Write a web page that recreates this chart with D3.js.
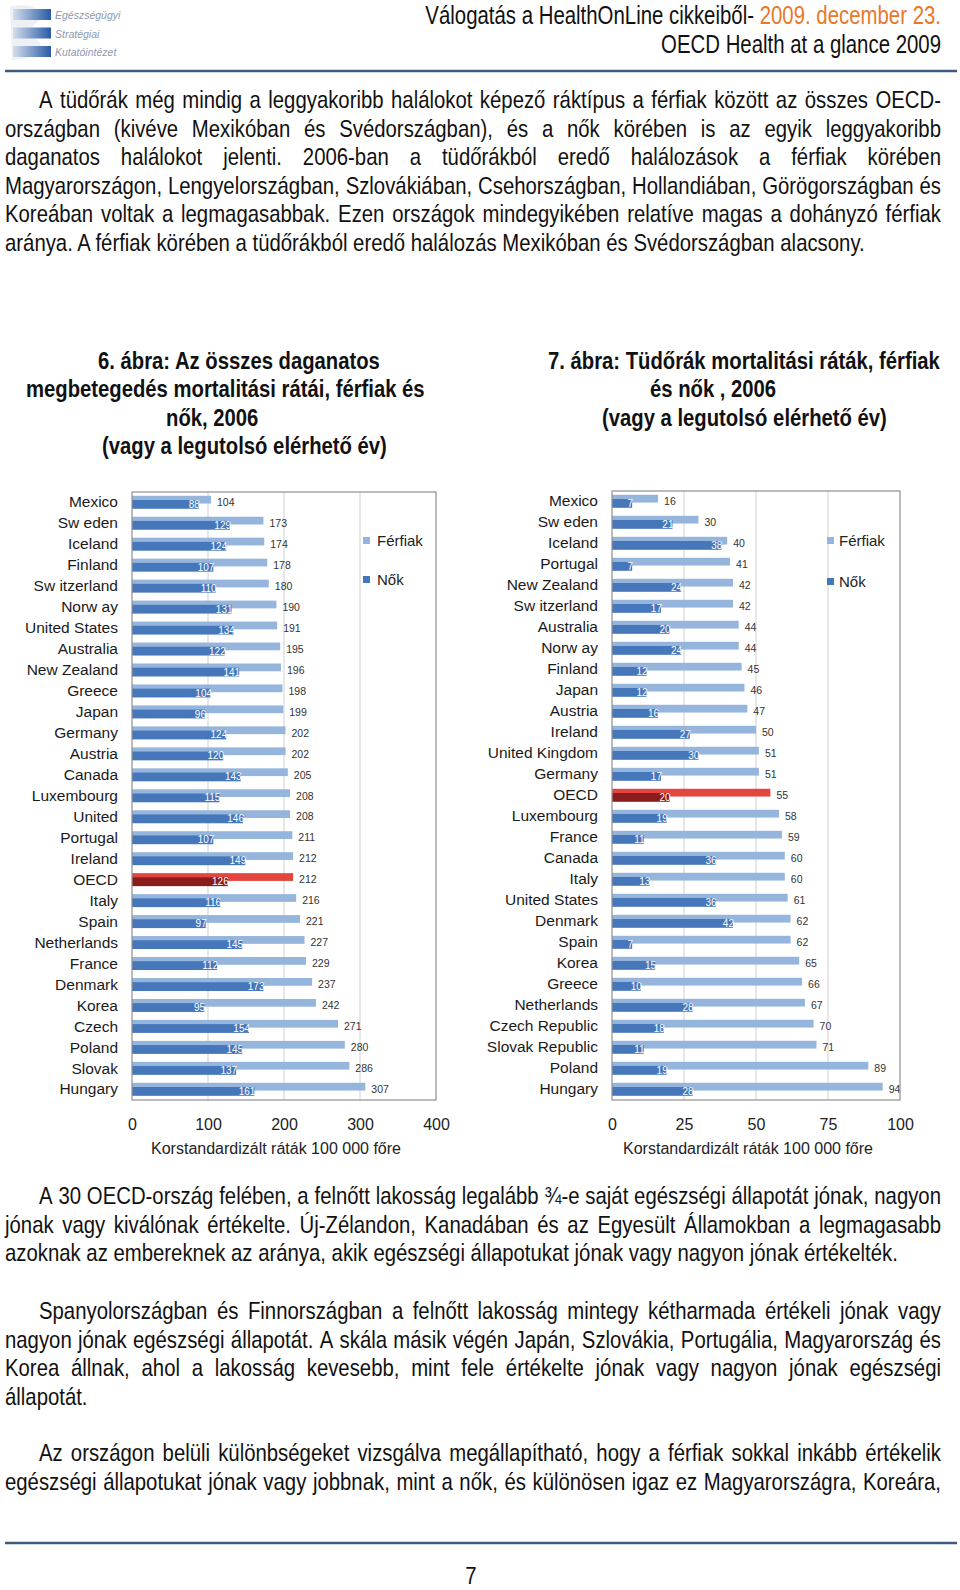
<!DOCTYPE html>
<html><head><meta charset="utf-8">
<script src="https://cdn.jsdelivr.net/npm/d3@7"></script>
<style>body{margin:0;background:#fff}</style>
</head><body>
<script>
// ---------- DATA ----------
const cancerCountries = ["Mexico","Sw eden","Iceland","Finland","Sw itzerland","Norw ay","United States","Australia","New  Zealand","Greece","Japan","Germany","Austria","Canada","Luxembourg","United","Portugal","Ireland","OECD","Italy","Spain","Netherlands","France","Denmark","Korea","Czech","Poland","Slovak","Hungary"];
const cancerMen   = [104,173,174,178,180,190,191,195,196,198,199,202,202,205,208,208,211,212,212,216,221,227,229,237,242,271,280,286,307];
const cancerWomen = [88,129,124,107,110,131,134,122,141,104,96,124,120,143,115,146,107,149,126,116,97,145,112,173,95,154,145,137,161];
const cancerTicks = [0,100,200,300,400];

const lungCountries = ["Mexico","Sw eden","Iceland","Portugal","New  Zealand","Sw itzerland","Australia","Norw ay","Finland","Japan","Austria","Ireland","United Kingdom","Germany","OECD","Luxembourg","France","Canada","Italy","United States","Denmark","Spain","Korea","Greece","Netherlands","Czech Republic","Slovak Republic","Poland","Hungary"];
const lungMen   = [16,30,40,41,42,42,44,44,45,46,47,50,51,51,55,58,59,60,60,61,62,62,65,66,67,70,71,89,94];
const lungWomen = [7,21,38,7,24,17,20,24,12,12,16,27,30,17,20,19,11,36,13,36,42,7,15,10,28,18,11,19,28];
const lungTicks = [0,25,50,75,100];

const seriesNames = ["Férfiak","Nők"];
const axisTitle = "Korstandardizált ráták 100 000 főre";

const headerLine1a = "Válogatás a HealthOnLine cikkeiből- ";
const headerLine1b = "2009. december 23.";
const headerLine2 = "OECD Health at a glance 2009";

const para1 = [
 "A tüdőrák még mindig a leggyakoribb halálokot képező ráktípus a férfiak között az összes OECD-",
 "országban (kivéve Mexikóban és Svédországban), és a nők körében is az egyik leggyakoribb",
 "daganatos halálokot jelenti. 2006-ban a tüdőrákból eredő halálozások a férfiak körében",
 "Magyarországon, Lengyelországban, Szlovákiában, Csehországban, Hollandiában, Görögországban és",
 "Koreában voltak a legmagasabbak. Ezen országok mindegyikében relatíve magas a dohányzó férfiak",
 "aránya. A férfiak körében a tüdőrákból eredő halálozás Mexikóban és Svédországban alacsony."
];
const para2 = [
 "A 30 OECD-ország felében, a felnőtt lakosság legalább ¾-e saját egészségi állapotát jónak, nagyon",
 "jónak vagy kiválónak értékelte. Új-Zélandon, Kanadában és az Egyesült Államokban a legmagasabb",
 "azoknak az embereknek az aránya, akik egészségi állapotukat jónak vagy nagyon jónak értékelték."
];
const para3 = [
 "Spanyolországban és Finnországban a felnőtt lakosság mintegy kétharmada értékeli jónak vagy",
 "nagyon jónak egészségi állapotát. A skála másik végén Japán, Szlovákia, Portugália, Magyarország és",
 "Korea állnak, ahol a lakosság kevesebb, mint fele értékelte jónak vagy nagyon jónak egészségi",
 "állapotát."
];
const para4 = [
 "Az országon belüli különbségeket vizsgálva megállapítható, hogy a férfiak sokkal inkább értékelik",
 "egészségi állapotukat jónak vagy jobbnak, mint a nők, és különösen igaz ez Magyarországra, Koreára,"
];
const title6 = ["6. ábra: Az összes daganatos","megbetegedés mortalitási rátái, férfiak és","nők, 2006","(vagy a legutolsó elérhető év)"];
const title7 = ["7. ábra: Tüdőrák mortalitási ráták, férfiak","és nők , 2006","(vagy a legutolsó elérhető év)"];
const logoWords = ["Egészségügyi","Stratégiai","Kutatóintézet"];

// ---------- SETUP ----------
const svg = d3.select("body").append("svg").attr("width",960).attr("height",1590).style("display","block");

function measureF(str, fam, size, weight){
  const t = svg.append("text").attr("font-family",fam).attr("font-size",size).attr("font-weight",weight||"normal").text(str);
  const w = t.node().getComputedTextLength(); t.remove(); return w;
}
const probe = "Magyarországon, Lengyelországban";
const wN = measureF(probe, "'Liberation Sans Narrow','Liberation Sans'", 20);
const wR = measureF(probe, "'Liberation Sans'", 20);
let FAM, SX;
if (wN < wR*0.95) { FAM = "'Liberation Sans Narrow','Arial Narrow',sans-serif"; SX = 1; }
else { FAM = "'Liberation Sans',Arial,sans-serif"; SX = 0.82; }
const measureN = (s,size,weight)=>measureF(s,FAM,size,weight);

function tline(str, x, y, o){
  const g = svg.append("g").attr("transform",`translate(${x},${y}) scale(${SX},1)`);
  const t = g.append("text").attr("font-family",FAM).attr("font-size",o.size)
    .attr("font-weight",o.weight||"normal").attr("fill",o.fill||"#111");
  if (o.justify){
    const words = str.split(" ");
    const ws = words.map(w=>measureN(w,o.size,o.weight));
    const gap = (o.justify/SX - d3.sum(ws))/(words.length-1);
    let cx = 0;
    words.forEach((w,i)=>{ t.append("tspan").attr("x",cx).text(w); cx += ws[i]+gap; });
  } else {
    t.text(str);
    if (o.anchor) t.attr("text-anchor",o.anchor);
  }
  return t;
}

// font sizes fitted to reference line widths
const bodySize = 20*860/(measureN(para1[5],20)*SX);
const titleSize = 20*285/(measureN(title6[3],20,"bold")*SX);
const headSize = 20*280/(measureN(headerLine2,20)*SX);

// ---------- HEADER ----------
const defs = svg.append("defs");
const lg = defs.append("linearGradient").attr("id","lg");
lg.append("stop").attr("offset","0").attr("stop-color","#d3deec");
lg.append("stop").attr("offset","1").attr("stop-color","#2a5aa5");
svg.append("path").attr("d","M10,6 Q40,2 44,18 Q20,30 40,42 Q44,58 12,60 Z").attr("fill","#eef0f3");
logoWords.forEach((w,i)=>{
  svg.append("rect").attr("x",13).attr("y",9+i*18.5).attr("width",38).attr("height",11).attr("fill","url(#lg)");
  svg.append("text").attr("x",55).attr("y",19+i*18.5).attr("font-family","'Liberation Sans',sans-serif")
    .attr("font-size",10.5).attr("fill","#8a9bb3").attr("font-style","italic").text(w);
});
{
  const g = svg.append("g").attr("transform",`translate(941,24) scale(${SX},1)`);
  const t = g.append("text").attr("font-family",FAM).attr("font-size",headSize).attr("text-anchor","end");
  t.append("tspan").attr("fill","#111").text(headerLine1a);
  t.append("tspan").attr("fill","#e8792a").text(headerLine1b);
}
tline(headerLine2, 941, 53, {size:headSize, anchor:"end"});
svg.append("line").attr("x1",5).attr("x2",957).attr("y1",71).attr("y2",71).attr("stroke","#3d5d7e").attr("stroke-width",2.5);

// ---------- PARAGRAPHS ----------
function para(lines, y0, lastJustified){
  lines.forEach((s,i)=>{
    const x = i===0 ? 39 : 5;
    const isLast = i===lines.length-1;
    const just = (!isLast || lastJustified) ? 941 - x : null;
    tline(s, x, y0 + i*28.6, {size:bodySize, justify:just});
  });
}
para(para1, 108, false);
para(para2, 1204, false);
para(para3, 1319, false);
para(para4, 1461, true);

// ---------- TITLES ----------
const t6x = [98,26,166,102], t7x = [548,650,602];
title6.forEach((s,i)=>tline(s, t6x[i], 369+i*28.4, {size:titleSize, weight:"bold"}));
title7.forEach((s,i)=>tline(s, t7x[i], 369+i*28.4, {size:titleSize, weight:"bold"}));

// ---------- CHARTS ----------
const C = {light:"#95b5dd", dark:"#4677bb", oLight:"#e2463f", oDark:"#8b1c1c"};
function drawChart(cfg){
  const rows = cfg.countries.map((c,i)=>({c, m:cfg.men[i], w:cfg.women[i]}));
  const x = d3.scaleLinear().domain([0, d3.max(cfg.ticks)]).range([cfg.left, cfg.right]);
  const y = d3.scaleBand().domain(cfg.countries).range([cfg.top, cfg.bottom]);
  const bw = y.bandwidth();
  const g = svg.append("g");
  g.selectAll("line.grid").data(cfg.ticks.slice(1,-1)).join("line")
    .attr("x1",d=>x(d)).attr("x2",d=>x(d)).attr("y1",cfg.top).attr("y2",cfg.bottom)
    .attr("stroke","#cfcfcf").attr("stroke-width",1);
  g.selectAll("rect.m").data(rows).join("rect")
    .attr("x",x(0)).attr("y",d=>y(d.c)+bw*0.18).attr("height",bw*0.37)
    .attr("width",d=>x(d.m)-x(0)).attr("fill",d=>d.c==="OECD"?C.oLight:C.light);
  g.selectAll("rect.w").data(rows).join("rect")
    .attr("x",x(0)).attr("y",d=>y(d.c)+bw*0.38).attr("height",bw*0.42)
    .attr("width",d=>x(d.w)-x(0)).attr("fill",d=>d.c==="OECD"?C.oDark:C.dark);
  g.selectAll("text.m").data(rows).join("text")
    .attr("x",d=>x(d.m)+6).attr("y",d=>y(d.c)+bw*0.5+3.5)
    .attr("font-family","'Liberation Sans',Arial,sans-serif").attr("font-size",10.5).attr("fill","#333")
    .text(d=>d.m);
  g.selectAll("text.w").data(rows).join("text")
    .attr("x",d=>x(d.w)+1).attr("y",d=>y(d.c)+bw*0.59+3.5).attr("text-anchor","end")
    .attr("font-family","'Liberation Sans',Arial,sans-serif").attr("font-size",10).attr("fill","#fff")
    .text(d=>d.w);
  g.append("rect").attr("x",cfg.left).attr("y",cfg.top).attr("width",cfg.right-cfg.left).attr("height",cfg.bottom-cfg.top)
    .attr("fill","none").attr("stroke","#8f8f8f").attr("stroke-width",1.2);
  const ay = g.append("g").attr("transform",`translate(${cfg.left},0)`)
    .call(d3.axisLeft(y).tickSize(0).tickPadding(14));
  ay.select(".domain").remove();
  ay.selectAll("text").attr("font-family","'Liberation Sans',Arial,sans-serif").attr("font-size",15.5).attr("fill","#1a1a1a");
  const ax = g.append("g").attr("transform",`translate(0,${cfg.bottom})`)
    .call(d3.axisBottom(x).tickValues(cfg.ticks).tickSize(0).tickPadding(19));
  ax.select(".domain").remove();
  ax.selectAll("text").attr("font-family","'Liberation Sans',Arial,sans-serif").attr("font-size",16).attr("fill","#222");
  g.append("text").attr("x",cfg.titleX).attr("y",cfg.bottom+54).attr("text-anchor","middle")
    .attr("font-family","'Liberation Sans',Arial,sans-serif").attr("font-size",16).attr("fill","#222").text(axisTitle);
  const leg = g.selectAll("g.leg").data(seriesNames).join("g")
    .attr("transform",(d,i)=>`translate(${cfg.legX},${cfg.legY[i]})`);
  leg.append("rect").attr("x",0).attr("y",-4).attr("width",7).attr("height",7).attr("fill",(d,i)=>i?C.dark:C.light);
  leg.append("text").attr("x",cfg.legTX).attr("y",5).attr("font-family","'Liberation Sans',Arial,sans-serif")
    .attr("font-size",15).attr("fill","#222").text(d=>d);
}
drawChart({countries:cancerCountries, men:cancerMen, women:cancerWomen, ticks:cancerTicks,
  left:132, right:436, top:492, bottom:1100, titleX:276, legX:363, legY:[541,580], legTX:14});
drawChart({countries:lungCountries, men:lungMen, women:lungWomen, ticks:lungTicks,
  left:612, right:900, top:491, bottom:1100, titleX:748, legX:827, legY:[541,582], legTX:12});

// ---------- FOOTER ----------
svg.append("line").attr("x1",5).attr("x2",957).attr("y1",1543).attr("y2",1543).attr("stroke","#3d5d7e").attr("stroke-width",2.5);
tline("7", 471, 1584, {size:bodySize, anchor:"middle"});
</script>
</body></html>
